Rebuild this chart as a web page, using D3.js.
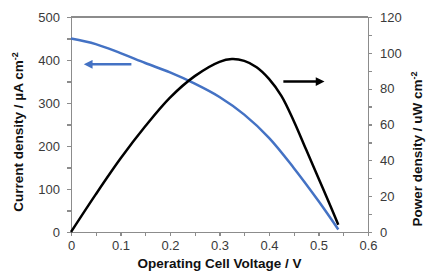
<!DOCTYPE html>
<head>
   <meta charset="utf-8">
   <script src="https://d3js.org/d3.v7.min.js"></script>
   <style>
      body { margin: 0; background: #fff; }
      text { font-family: "Liberation Sans", Arial, sans-serif; }
      .axis text { font-size: 13px; fill: #3a3a3a; }
      .axis path.domain, .axis line { stroke: #8c8c8c; stroke-width: 1.2; shape-rendering: crispEdges; }
      text.title { font-size: 13.5px; font-weight: 700; fill: #111; }
   </style>
</head>
<body>
   <script>
      // current density, uA cm-2 (left axis)
      const voltageI = [0, 0.05, 0.1, 0.15, 0.2, 0.25, 0.3, 0.35, 0.4, 0.45, 0.5, 0.54];
      const currentDensity = [450, 437, 416, 393, 371, 345, 314, 273, 219, 149, 72, 6];
      // power density, uW cm-2 (right axis)
      const voltageP = [0, 0.05, 0.1, 0.15, 0.2, 0.25, 0.3, 0.325, 0.35, 0.375, 0.4, 0.425, 0.45, 0.475, 0.5, 0.525, 0.54];
      const powerDensity = [0, 21, 41, 59, 75, 87, 95, 96.5, 95.5, 92, 85.5, 76, 62, 46, 30, 14, 4];

      const xTicks = [0, 0.1, 0.2, 0.3, 0.4, 0.5, 0.6];
      const leftTicks = [0, 100, 200, 300, 400, 500];
      const rightTicks = [0, 20, 40, 60, 80, 100, 120];

      const width = 426, height = 273;
      const margin = { top: 17, right: 58, bottom: 41, left: 71 };

      const svg = d3.select("body").append("svg")
         .attr("width", width)
         .attr("height", height);

      const x = d3.scaleLinear().domain([0, 0.6]).range([margin.left, width - margin.right]);
      const yL = d3.scaleLinear().domain([0, 500]).range([height - margin.bottom, margin.top]);
      const yR = d3.scaleLinear().domain([0, 120]).range([height - margin.bottom, margin.top]);

      const fmtX = d => xTicks.some(t => Math.abs(t - d) < 1e-9) ? d3.format("")(+d.toFixed(1)) : "";

      // top border
      svg.append("line")
         .attr("x1", x(0)).attr("x2", x(0.6))
         .attr("y1", yL(500)).attr("y2", yL(500))
         .attr("stroke", "#8c8c8c").attr("stroke-width", 1.2)
         .style("shape-rendering", "crispEdges");

      svg.append("g").attr("class", "axis")
         .attr("transform", `translate(0,${yL(0)})`)
         .call(d3.axisBottom(x).tickValues(d3.range(0, 0.61, 0.05)).tickSize(4).tickPadding(5).tickSizeOuter(0)
            .tickFormat(fmtX));

      svg.append("g").attr("class", "axis")
         .attr("transform", `translate(${x(0)},0)`)
         .call(d3.axisLeft(yL).tickValues(d3.range(0, 501, 50)).tickSize(4).tickPadding(7).tickSizeOuter(0)
            .tickFormat(d => leftTicks.includes(d) ? d : ""));

      svg.append("g").attr("class", "axis")
         .attr("transform", `translate(${x(0.6)},0)`)
         .call(d3.axisRight(yR).tickValues(d3.range(0, 121, 10)).tickSize(4).tickPadding(8).tickSizeOuter(0)
            .tickFormat(d => rightTicks.includes(d) ? d : ""));

      const blueData = voltageI.map((v, i) => [v, currentDensity[i]]);
      const blackData = voltageP.map((v, i) => [v, powerDensity[i]]);

      svg.append("path")
         .datum(blueData)
         .attr("fill", "none")
         .attr("stroke", "#4472c4")
         .attr("stroke-width", 2.5)
         .attr("d", d3.line().x(d => x(d[0])).y(d => yL(d[1])).curve(d3.curveCatmullRom.alpha(0.5)));

      svg.append("path")
         .datum(blackData)
         .attr("fill", "none")
         .attr("stroke", "#000")
         .attr("stroke-width", 2.5)
         .attr("d", d3.line().x(d => x(d[0])).y(d => yR(d[1])).curve(d3.curveCatmullRom.alpha(0.5)));

      // arrow markers
      const defs = svg.append("defs");
      [["blueHead", "#4472c4"], ["blackHead", "#000"]].forEach(([id, c]) => {
         defs.append("marker")
            .attr("id", id)
            .attr("viewBox", "0 0 10 10")
            .attr("refX", 2).attr("refY", 5)
            .attr("markerWidth", 4).attr("markerHeight", 3.5)
            .attr("orient", "auto")
            .append("path").attr("d", "M0,0 L10,5 L0,10 Z").attr("fill", c);
      });

      svg.append("line")
         .attr("x1", x(0.122)).attr("x2", x(0.04))
         .attr("y1", yL(390)).attr("y2", yL(390))
         .attr("stroke", "#4472c4").attr("stroke-width", 2.5)
         .attr("marker-end", "url(#blueHead)");

      svg.append("line")
         .attr("x1", x(0.429)).attr("x2", x(0.498))
         .attr("y1", yR(84)).attr("y2", yR(84))
         .attr("stroke", "#000").attr("stroke-width", 2.5)
         .attr("marker-end", "url(#blackHead)");

      // axis titles
      svg.append("text")
         .attr("class", "title")
         .attr("x", (x(0) + x(0.6)) / 2)
         .attr("y", 268)
         .attr("text-anchor", "middle")
         .text("Operating Cell Voltage / V");

      const lt = svg.append("text")
         .attr("class", "title")
         .attr("transform", `translate(23,132) rotate(-90)`)
         .attr("text-anchor", "middle");
      lt.append("tspan").text("Current density / µA cm");
      lt.append("tspan").attr("dy", -5).style("font-size", "9px").text("-2");

      const rt = svg.append("text")
         .attr("class", "title")
         .attr("transform", `translate(422,149) rotate(-90)`)
         .attr("text-anchor", "middle");
      rt.append("tspan").text("Power density / uW cm");
      rt.append("tspan").attr("dy", -5).style("font-size", "9px").text("-2");
</script>
</body>
